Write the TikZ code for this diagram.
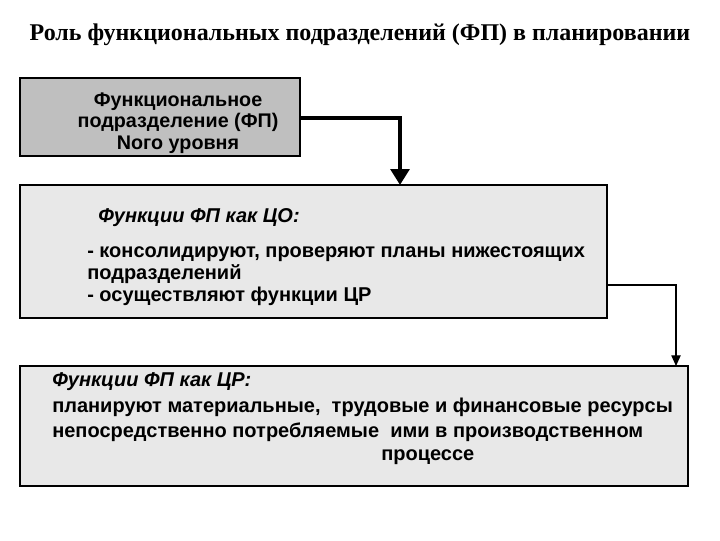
\documentclass[tikz,border=0pt]{standalone}
\usepackage{fontspec}
\setmainfont{Liberation Sans}
\newfontfamily\serif{Liberation Serif}
\usetikzlibrary{arrows.meta}
\begin{document}
\begin{tikzpicture}[x=0.75pt,y=-0.75pt,
  box/.style={draw=black,line width=1.5pt},
  txt/.style={anchor=west,align=left,font=\bfseries\fontsize{15pt}{16.5pt}\selectfont,inner sep=0}]
\useasboundingbox (0,0) rectangle (720,540);
\node[font=\serif\bfseries\fontsize{18pt}{20pt}\selectfont] (title) at (360,35) {Роль функциональных подразделений (ФП) в планировании};
\draw[box,fill=black!25] (20,78) rectangle (300,156);
\coordinate (b1r) at (300,118);
\node[align=center,font=\bfseries\fontsize{14.8pt}{16pt}\selectfont] (t1) at (178,123) {Функциональное\\подразделение (ФП)\\Nого уровня};
\draw[box,fill=black!9] (20,185) rectangle (607,318);
\coordinate (b2t) at (400,185);
\coordinate (b2r) at (607,285);
\node[txt] (t2a) at (98,218) {\itshape Функции ФП как ЦО:};
\node[txt] (t2b) at (87,276) {- консолидируют, проверяют планы нижестоящих\\подразделений\\- осуществляют функции ЦР};
\draw[box,fill=black!9] (20,366) rectangle (688,486);
\coordinate (b3t) at (676,366);
\node[txt] (t3a) at (52,382) {\itshape Функции ФП как ЦР:};
\node[txt] (t3b) at (52,407) {планируют материальные,\ \ трудовые и финансовые ресурсы};
\node[txt] (t3c) at (52,432) {непосредственно потребляемые\ \ ими в производственном};
\node[txt] (t3d) at (381,457) {процессе};
\draw[line width=3pt,-{Triangle[length=12pt,width=14pt]}] (b1r) -| (b2t);
\draw[line width=0.8pt,-{Triangle[length=8pt,width=7pt]}] (b2r) -| (b3t);
\end{tikzpicture}
\end{document}
